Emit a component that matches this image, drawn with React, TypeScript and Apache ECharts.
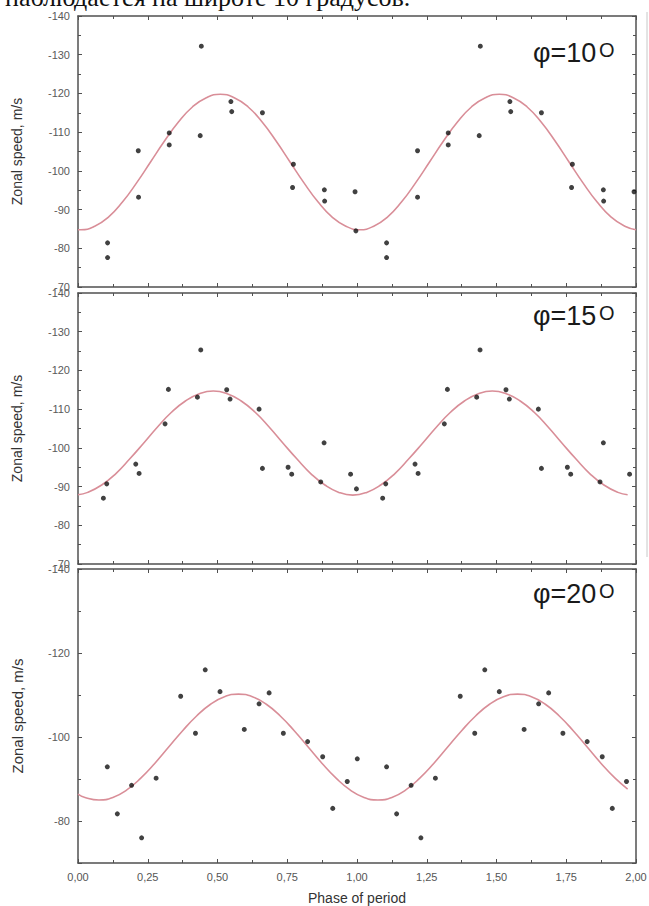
import React, { useEffect, useRef } from "react";
import * as echarts from "echarts";

// Latitude of each panel, top to bottom
const latitudes = [10, 15, 20];

// Observed zonal speeds (m/s) against phase of the period, two periods shown
const phase10 = [
  0.106, 0.106, 0.216, 0.217, 0.327, 0.327, 0.442, 0.438, 0.548, 0.551, 0.661, 0.772, 0.769, 0.883, 0.884, 0.993, 0.996,
  1.106, 1.106, 1.217, 1.217, 1.327, 1.327, 1.442, 1.438, 1.548, 1.551, 1.661, 1.772, 1.769, 1.883, 1.884, 1.993,
];
const speed10 = [
  -81.4, -77.6, -105.2, -93.2, -109.8, -106.7, -132.2, -109.1, -117.9, -115.3, -115.0, -101.7, -95.7, -95.1, -92.2, -94.6, -84.5,
  -81.4, -77.6, -105.2, -93.2, -109.8, -106.7, -132.2, -109.1, -117.9, -115.3, -115.0, -101.7, -95.7, -95.1, -92.2, -94.6,
];

const phase15 = [
  0.091, 0.103, 0.207, 0.219, 0.312, 0.324, 0.44, 0.428, 0.533, 0.545, 0.649, 0.661, 0.753, 0.766, 0.87, 0.882, 0.977, 0.998,
  1.092, 1.103, 1.208, 1.219, 1.313, 1.324, 1.441, 1.429, 1.534, 1.546, 1.65, 1.661, 1.754, 1.766, 1.871, 1.883, 1.977,
];
const speed15 = [
  -87.0, -90.7, -95.8, -93.4, -106.2, -115.1, -125.3, -113.1, -115.0, -112.6, -110.0, -94.7, -95.0, -93.2, -91.2, -101.3, -93.2, -89.4,
  -87.0, -90.7, -95.8, -93.4, -106.2, -115.1, -125.3, -113.1, -115.0, -112.6, -110.0, -94.7, -95.0, -93.2, -91.2, -101.3, -93.2,
];

const phase20 = [
  0.105, 0.141, 0.192, 0.228, 0.28, 0.368, 0.421, 0.456, 0.509, 0.596, 0.649, 0.685, 0.736, 0.823, 0.877, 0.913, 0.965, 1.001,
  1.106, 1.142, 1.194, 1.229, 1.281, 1.37, 1.422, 1.458, 1.51, 1.599, 1.651, 1.687, 1.738, 1.825, 1.879, 1.915, 1.966,
];
const speed20 = [
  -92.9, -81.7, -88.5, -76.0, -90.2, -109.7, -100.9, -116.0, -110.8, -101.8, -107.9, -110.5, -100.9, -98.9, -95.3, -83.0, -89.4, -94.8,
  -92.9, -81.7, -88.5, -76.0, -90.2, -109.7, -100.9, -116.0, -110.8, -101.8, -107.9, -110.5, -100.9, -98.9, -95.3, -83.0, -89.4,
];

// Fitted periodic curves, sampled along the phase axis (samples fall on each crest and trough)
const fitPhase10 = [
  0, 0.01, 0.06, 0.11, 0.16, 0.21, 0.26, 0.31, 0.36, 0.41, 0.46, 0.51, 0.56, 0.61, 0.66, 0.71, 0.76, 0.81, 0.86, 0.91, 0.96,
  1.01, 1.06, 1.11, 1.16, 1.21, 1.26, 1.31, 1.36, 1.41, 1.46, 1.51, 1.56, 1.61, 1.66, 1.71, 1.76, 1.81, 1.86, 1.91, 1.96, 2,
];
const fit10 = [
  -84.8, -84.8, -85.7, -88.1, -92.0, -96.9, -102.3, -107.7, -112.6, -116.5, -118.9, -119.8, -118.9, -116.5, -112.6, -107.7, -102.3, -96.9, -92.0, -88.1, -85.7,
  -84.8, -85.7, -88.1, -92.0, -96.9, -102.3, -107.7, -112.6, -116.5, -118.9, -119.8, -118.9, -116.5, -112.6, -107.7, -102.3, -96.9, -92.0, -88.1, -85.7, -84.8,
];

const fitPhase15 = [
  0, 0.035, 0.085, 0.135, 0.185, 0.235, 0.285, 0.335, 0.385, 0.435, 0.485, 0.535, 0.585, 0.635, 0.685, 0.735, 0.785, 0.835, 0.885, 0.935,
  0.985, 1.035, 1.085, 1.135, 1.185, 1.235, 1.285, 1.335, 1.385, 1.435, 1.485, 1.535, 1.585, 1.635, 1.685, 1.735, 1.785, 1.835, 1.885, 1.935, 1.97,
];
const fit15 = [
  -87.9, -88.5, -90.4, -93.3, -97.1, -101.2, -105.4, -109.2, -112.1, -114.0, -114.7, -114.0, -112.1, -109.2, -105.4, -101.2, -97.1, -93.3, -90.4, -88.5,
  -87.8, -88.5, -90.4, -93.3, -97.1, -101.2, -105.4, -109.2, -112.1, -114.0, -114.7, -114.0, -112.1, -109.2, -105.4, -101.2, -97.1, -93.3, -90.4, -88.5, -87.9,
];

const fitPhase20 = [
  0, 0.025, 0.075, 0.125, 0.175, 0.225, 0.275, 0.325, 0.375, 0.425, 0.475, 0.525, 0.575, 0.625, 0.675, 0.725, 0.775, 0.825, 0.875, 0.925,
  0.975, 1.025, 1.075, 1.125, 1.175, 1.225, 1.275, 1.325, 1.375, 1.425, 1.475, 1.525, 1.575, 1.625, 1.675, 1.725, 1.775, 1.825, 1.875, 1.925, 1.97,
];
const fit20 = [
  -86.4, -85.6, -85.0, -85.6, -87.4, -90.2, -93.7, -97.6, -101.5, -105.0, -107.8, -109.6, -110.2, -109.6, -107.8, -105.0, -101.5, -97.6, -93.7, -90.2,
  -87.4, -85.6, -85.0, -85.6, -87.4, -90.2, -93.7, -97.6, -101.5, -105.0, -107.8, -109.6, -110.2, -109.6, -107.8, -105.0, -101.5, -97.6, -93.7, -90.2, -87.6,
];

const yTickStep = [10, 10, 20];
const headline = "наблюдается на широте 10 градусов.";
const yName = "Zonal speed, m/s";
const xName = "Phase of period";

const zip = (xs: number[], ys: number[]) => xs.map((x, i) => [x, ys[i]]);

const panels = [
  { pts: zip(phase10, speed10), fit: zip(fitPhase10, fit10) },
  { pts: zip(phase15, speed15), fit: zip(fitPhase15, fit15) },
  { pts: zip(phase20, speed20), fit: zip(fitPhase20, fit20) },
];

const gridBoxes = [
  { left: 78, top: 16, width: 558, height: 271 },
  { left: 78, top: 293, width: 558, height: 271 },
  { left: 78, top: 569, width: 558, height: 294 },
];
// vertical centre of the latitude tag in each panel
const tagCenters = [53, 316, 594];

const FRAME = "#505050";
const SANS = "'Liberation Sans', Arial, sans-serif";

export default function App() {
  const ref = useRef<HTMLDivElement>(null);

  useEffect(() => {
    if (!ref.current) return;
    const chart = echarts.init(ref.current, undefined, { renderer: "svg" });

    const frameLine = { show: true, onZero: false, lineStyle: { color: FRAME, width: 1.5 } };
    const tick = { show: true, inside: true, length: 4, lineStyle: { color: FRAME, width: 1 } };
    const minor = { show: true, splitNumber: 2, length: 3, lineStyle: { color: FRAME, width: 1 } };

    const xAxes: any[] = [];
    const yAxes: any[] = [];
    const series: any[] = [];

    gridBoxes.forEach((_, i) => {
      const last = i === gridBoxes.length - 1;
      const xBase = {
        type: "value",
        gridIndex: i,
        min: 0,
        max: 2,
        interval: 0.25,
        axisLine: frameLine,
        axisTick: tick,
        minorTick: minor,
        splitLine: { show: false },
        minorSplitLine: { show: false },
      };
      xAxes.push({
        ...xBase,
        position: "bottom",
        axisLabel: last
          ? {
              show: true,
              color: "#555",
              fontSize: 11,
              fontFamily: SANS,
              margin: 8,
              formatter: (v: number) => v.toFixed(2).replace(".", ","),
            }
          : { show: false },
        name: last ? xName : "",
        nameLocation: "middle",
        nameGap: 28,
        nameTextStyle: { color: "#333", fontSize: 14, fontFamily: SANS },
      });
      xAxes.push({ ...xBase, position: "top", axisLabel: { show: false } });

      const yBase = {
        type: "value",
        gridIndex: i,
        inverse: true,
        min: -140,
        max: -70,
        interval: yTickStep[i],
        axisLine: frameLine,
        axisTick: tick,
        minorTick: minor,
        splitLine: { show: false },
        minorSplitLine: { show: false },
      };
      yAxes.push({
        ...yBase,
        position: "left",
        axisLabel: {
          show: true,
          color: "#5a5a5a",
          fontSize: 11,
          fontFamily: SANS,
          margin: 8,
          showMaxLabel: !last,
        },
        name: yName,
        nameLocation: "middle",
        nameGap: last ? 53 : 54,
        nameTextStyle: { color: "#333", fontSize: last ? 15 : 14, fontFamily: SANS },
      });
      yAxes.push({ ...yBase, position: "right", axisLabel: { show: false } });

      series.push({
        type: "line",
        xAxisIndex: 2 * i,
        yAxisIndex: 2 * i,
        data: panels[i].fit,
        smooth: true,
        symbol: "none",
        showSymbol: false,
        lineStyle: { color: "#d98e98", width: 1.6 },
        z: 2,
      });
      series.push({
        type: "scatter",
        xAxisIndex: 2 * i,
        yAxisIndex: 2 * i,
        data: panels[i].pts,
        symbol: "circle",
        symbolSize: 5,
        itemStyle: { color: "#111" },
        z: 3,
      });
    });

    const graphics: any[] = [
      {
        type: "text",
        x: 5,
        y: -3,
        style: {
          text: headline,
          font: "26px 'Liberation Serif', 'Times New Roman', serif",
          fill: "#111",
          align: "left",
          verticalAlign: "middle",
        },
      },
      {
        type: "line",
        shape: { x1: 647, y1: 12, x2: 647, y2: 557 },
        style: { stroke: "#c8c8c8", lineWidth: 1 },
      },
    ];
    latitudes.forEach((lat, i) => {
      graphics.push({
        type: "text",
        x: 533,
        y: tagCenters[i],
        style: {
          text: `φ=${lat}`,
          font: `27px ${SANS}`,
          fill: "#1a1a1a",
          align: "left",
          verticalAlign: "middle",
        },
      });
      graphics.push({
        type: "text",
        x: 599,
        y: tagCenters[i] - 3.5,
        style: {
          text: "O",
          font: `20px ${SANS}`,
          fill: "#1a1a1a",
          align: "left",
          verticalAlign: "middle",
        },
      });
    });

    chart.setOption({
      animation: false,
      backgroundColor: "#fff",
      grid: gridBoxes.map((g) => ({ ...g, containLabel: false, outerBoundsMode: "none" })),
      xAxis: xAxes,
      yAxis: yAxes,
      series,
      graphic: graphics,
    });

    return () => chart.dispose();
  }, []);

  return (
    <div
      ref={ref}
      style={{ position: "absolute", left: 0, top: 0, width: 649, height: 906, background: "#fff" }}
    />
  );
}
